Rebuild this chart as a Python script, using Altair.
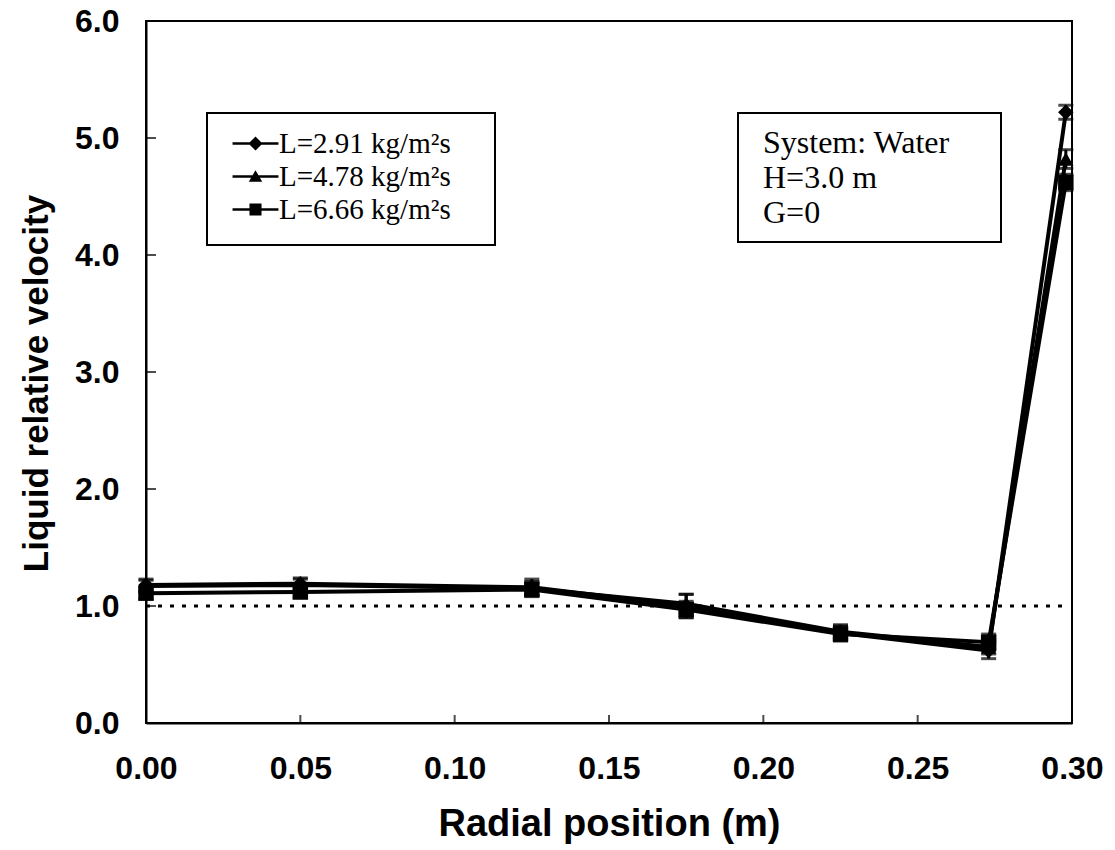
import altair as alt
import pandas as pd

# ---- data ----
radial = [0.0, 0.05, 0.125, 0.175, 0.225, 0.273, 0.298]
series_names = ["L=2.91 kg/m²s", "L=4.78 kg/m²s", "L=6.66 kg/m²s"]
vel_291 = [1.18, 1.19, 1.16, 1.00, 0.77, 0.62, 5.22]
vel_478 = [1.17, 1.18, 1.15, 1.02, 0.78, 0.65, 4.82]
vel_666 = [1.11, 1.12, 1.14, 0.97, 0.76, 0.69, 4.62]
err_291 = [0.05, 0.05, 0.07, 0.10, 0.06, 0.07, 0.06]
err_478 = [0.05, 0.05, 0.06, 0.08, 0.06, 0.06, 0.08]
err_666 = [0.05, 0.05, 0.06, 0.07, 0.06, 0.07, 0.07]
x_ticks = [0.0, 0.05, 0.10, 0.15, 0.20, 0.25, 0.30]
y_ticks = [0, 1, 2, 3, 4, 5, 6]
ref_level = [1.0]
ref_x = [0.0, 0.297]
note_lines = ["System: Water", "H=3.0 m", "G=0"]

rows = []
for name, vals, errs in zip(series_names, [vel_291, vel_478, vel_666], [err_291, err_478, err_666]):
    for xv, yv, ev in zip(radial, vals, errs):
        rows.append({"x": xv, "y": yv, "lo": yv - ev, "hi": yv + ev, "series": name})
df = pd.DataFrame(rows)
ref_df = pd.DataFrame({"x": [ref_x[0]], "x2": [ref_x[1]], "y": ref_level})
yt_df = pd.DataFrame({"v": y_ticks})
xt_df = pd.DataFrame({"v": x_ticks})

W, H = 926, 702
xscale = alt.Scale(domain=[0, 0.30], nice=False, zero=False)
yscale = alt.Scale(domain=[0, 6], nice=False)

x_axis = alt.Axis(
    values=x_ticks, format=".2f", ticks=False, grid=False,
    labelFont="Liberation Sans", labelFontSize=32, labelFontWeight="bold",
    labelColor="black", labelPadding=30, domainColor="black", domainWidth=2,
    title="Radial position (m)", titleFont="Liberation Sans", titleFontSize=38,
    titleFontWeight="bold", titleColor="black", titleBaseline="alphabetic",
    titleY=112, labelFlush=False,
)
y_axis = alt.Axis(
    values=y_ticks, format=".1f", ticks=False, grid=False,
    labelFont="Liberation Sans", labelFontSize=32, labelFontWeight="bold",
    labelColor="black", labelPadding=27, domainColor="black", domainWidth=2,
    title="Liquid relative velocity", titleFont="Liberation Sans", titleFontSize=35,
    titleFontWeight="bold", titleColor="black", titleAngle=270,
    titleBaseline="alphabetic", titleX=-99, titleY=H / 2 + 11, labelFlush=False,
)


def X(field):
    return alt.X(field, scale=xscale, axis=x_axis)


def Y(field):
    return alt.Y(field, scale=yscale, axis=y_axis)


base = alt.Chart(df)

ref_rule = alt.Chart(ref_df).mark_rule(
    color="black", strokeWidth=3, strokeDash=[4, 8]
).encode(x=X("x:Q"), x2="x2:Q", y=Y("y:Q"))

err_rule = base.mark_rule(color="black", strokeWidth=3).encode(
    x=X("x:Q"), y=Y("lo:Q"), y2="hi:Q"
)
cap_lo = base.mark_tick(orient="horizontal", color="black", size=15, thickness=3).encode(
    x=X("x:Q"), y=Y("lo:Q")
)
cap_hi = base.mark_tick(orient="horizontal", color="black", size=15, thickness=3).encode(
    x=X("x:Q"), y=Y("hi:Q")
)

lines = base.mark_line(color="black", strokeWidth=4).encode(
    x=X("x:Q"), y=Y("y:Q"), detail="series:N"
)

points = base.mark_point(filled=True, color="black", opacity=1, size=240).encode(
    x=X("x:Q"),
    y=Y("y:Q"),
    shape=alt.Shape(
        "series:N",
        scale=alt.Scale(domain=series_names, range=["diamond", "triangle-up", "square"]),
        legend=None,
    ),
)

legend_frame = alt.Chart(ref_df).mark_rect(
    fill="white", stroke="black", strokeWidth=2
).encode(
    x=alt.value(61), x2=alt.value(349), y=alt.value(92), y2=alt.value(224)
)

# legend symbols: a thin filled bar (the line) plus the filled marker
legend_paths = [
    "M-1.64,-0.085H1.64V0.085H-1.64ZM0,-0.5L0.5,0L0,0.5L-0.5,0Z",
    "M-1.64,-0.085H1.64V0.085H-1.64ZM0,-0.45L0.48,0.38L-0.48,0.38Z",
    "M-1.64,-0.085H1.64V0.085H-1.64ZM-0.43,-0.43H0.43V0.43H-0.43Z",
]
legend_layer = base.transform_filter("datum.x < -1").mark_point(
    filled=True, color="black", opacity=1
).encode(
    x=X("x:Q"),
    y=Y("y:Q"),
    shape=alt.Shape(
        "series:N",
        scale=alt.Scale(domain=series_names, range=legend_paths),
        legend=alt.Legend(
            title=None, orient="none", legendX=95, legendY=108,
            padding=0, rowPadding=3, symbolSize=784, symbolStrokeWidth=0,
            symbolFillColor="black", symbolOpacity=1,
            labelFont="Liberation Serif", labelFontSize=29, labelColor="black",
            labelOffset=9, labelLimit=400,
        ),
    ),
)

note_box = alt.Chart(ref_df).mark_rect(
    fill="white", stroke="black", strokeWidth=2
).encode(
    x=alt.value(592), x2=alt.value(855), y=alt.value(92), y2=alt.value(221)
)
note_text = alt.Chart(ref_df).mark_text(
    align="left", baseline="alphabetic", font="Liberation Serif", fontSize=32,
    color="black", lineHeight=35,
).encode(
    x=alt.value(617), y=alt.value(132), text=alt.value(note_lines)
)

ytick_marks = alt.Chart(yt_df).mark_tick(
    orient="horizontal", color="black", size=10, thickness=2
).encode(y=Y("v:Q"), x=alt.value(5))
xtick_marks = alt.Chart(xt_df).mark_tick(
    orient="vertical", color="black", size=8, thickness=2
).encode(x=X("v:Q"), y=alt.value(H - 4))

chart = alt.layer(
    ref_rule, err_rule, cap_lo, cap_hi, lines, points, legend_frame, legend_layer,
    note_box, note_text, ytick_marks, xtick_marks,
).resolve_scale(shape="independent").properties(
    width=W, height=H,
    background="white",
    autosize=alt.AutoSizeParams(type="none"),
    padding={"left": 146, "top": 21, "right": 43, "bottom": 127},
).configure_view(
    stroke="black", strokeWidth=2
)

chart.save("out.html", embed_options={"renderer": "svg", "actions": False})
